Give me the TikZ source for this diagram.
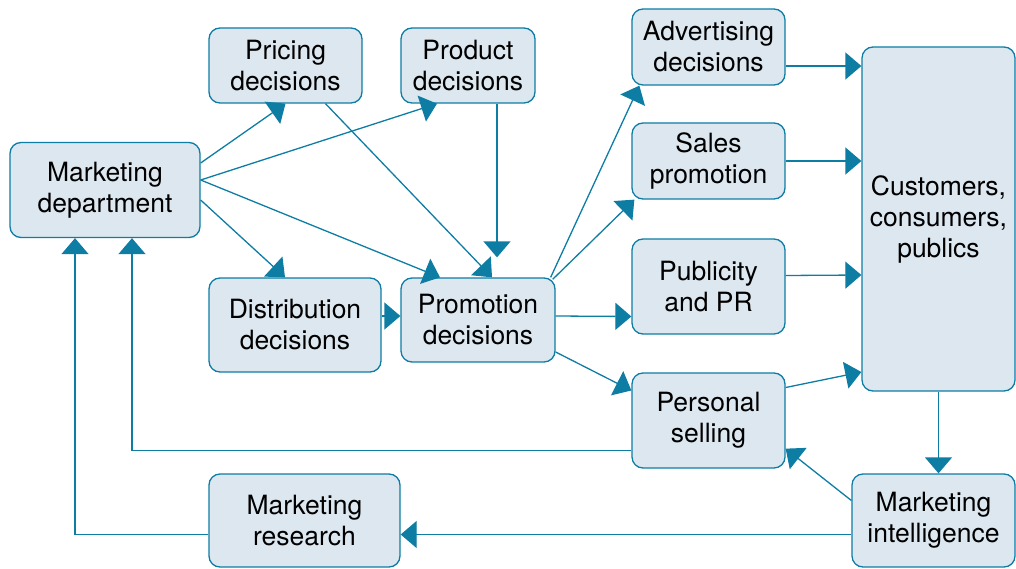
\documentclass[tikz,border=0pt]{standalone}
\usepackage{fontspec}
\setmainfont{TeX Gyre Heros}
\usetikzlibrary{arrows.meta, positioning}

\definecolor{mkline}{RGB}{14,125,164}
\definecolor{mkfill}{RGB}{220,231,240}

\begin{document}
\begin{tikzpicture}[
    x=1pt, y=-1pt,
    >={Triangle[length=16pt, width=27pt]}, % Set default arrow tip style
    box/.style={draw=mkline, fill=mkfill, line width=1.3pt, rounded corners=11pt,
        align=center, inner sep=2pt, font=\fontsize{26.5}{31}\selectfont}, % Style for boxes
    link/.style={->, mkline, line width=1.3pt} % Style for connectors
]
    \useasboundingbox (0,0) rectangle (1016,569);

    % Boxes
    \node[box, minimum width=190pt, minimum height=95pt] (md) at (105,190) {Marketing\\department};
    \node[box, minimum width=153pt, minimum height=75pt] (pricing) at (285.5,65.5) {Pricing\\decisions};
    \node[box, minimum width=134pt, minimum height=75pt] (product) at (468,65.5) {Product\\decisions};
    \node[box, minimum width=153pt, minimum height=76pt] (adv) at (708.5,47) {Advertising\\decisions};
    \node[box, minimum width=153pt, minimum height=76pt] (sales) at (708.5,161) {Sales\\promotion};
    \node[box, minimum width=153pt, minimum height=95pt] (pub) at (708.5,286.5) {Publicity\\and PR};
    \node[box, minimum width=153pt, minimum height=344pt] (cust) at (938.5,219) {Customers,\\consumers,\\publics};
    \node[box, minimum width=172pt, minimum height=94pt] (dist) at (295,325) {Distribution\\decisions};
    \node[box, minimum width=154pt, minimum height=84pt] (promo) at (478,320) {Promotion\\decisions};
    \node[box, minimum width=153pt, minimum height=95pt] (pers) at (708.5,420.5) {Personal\\selling};
    \node[box, minimum width=191pt, minimum height=93pt] (res) at (304.5,520.5) {Marketing\\research};
    \node[box, minimum width=163pt, minimum height=93pt] (intel) at (933.5,520.5) {Marketing\\intelligence};

    % From marketing department
    \draw[link] ([yshift=27pt]md.east) -- (pricing.south);
    \draw[link] ([yshift=10pt]md.east) -- ([xshift=-31pt]product.south);
    \draw[link] ([yshift=10pt]md.east) -- ([xshift=-38pt]promo.north);
    \draw[link] ([yshift=-10pt]md.east) -- ([xshift=-10pt]dist.north);

    % Into promotion decisions
    \draw[link] ([xshift=40pt]pricing.south) -- ([xshift=14pt]promo.north);
    \draw[link] ([xshift=29pt]product.south) -- ([xshift=19pt, yshift=20pt]promo.north);
    \draw[link] ([yshift=9pt]dist.east) -- ([yshift=4pt]promo.west);

    % Promotion mix
    \draw[link] ([xshift=-5pt]promo.north east) -- ([xshift=8pt]adv.south west);
    \draw[link] ([xshift=-3pt, yshift=-2pt]promo.north east) -- ([xshift=3pt]sales.south west);
    \draw[link] ([yshift=4pt]promo.east) -- ([yshift=-30pt]pub.west);
    \draw[link] ([yshift=-32pt]promo.east) -- ([yshift=30pt]pers.west);

    % Into customers
    \draw[link] ([yshift=-19pt]adv.east) -- ([yshift=153pt]cust.west);
    \draw[link] (sales.east) -- ([yshift=58pt]cust.west);
    \draw[link] ([yshift=11pt]pub.east) -- ([yshift=-56pt]cust.west);
    \draw[link] ([yshift=33pt]pers.east) -- ([yshift=-153pt]cust.west);

    % Feedback
    \draw[link] (cust.south) -- (cust.south |- intel.north);
    \draw[link] ([yshift=20pt]intel.west) -- ([yshift=20pt]pers.south east);
    \draw[link] ([yshift=-14pt]intel.west) -- ([yshift=-14pt]res.east);
    \draw[link] ([yshift=-30pt]pers.west) -| ([xshift=27pt]md.south);
    \draw[link] ([yshift=-14pt]res.west) -| ([xshift=-30pt]md.south);

\end{tikzpicture}
\end{document}
